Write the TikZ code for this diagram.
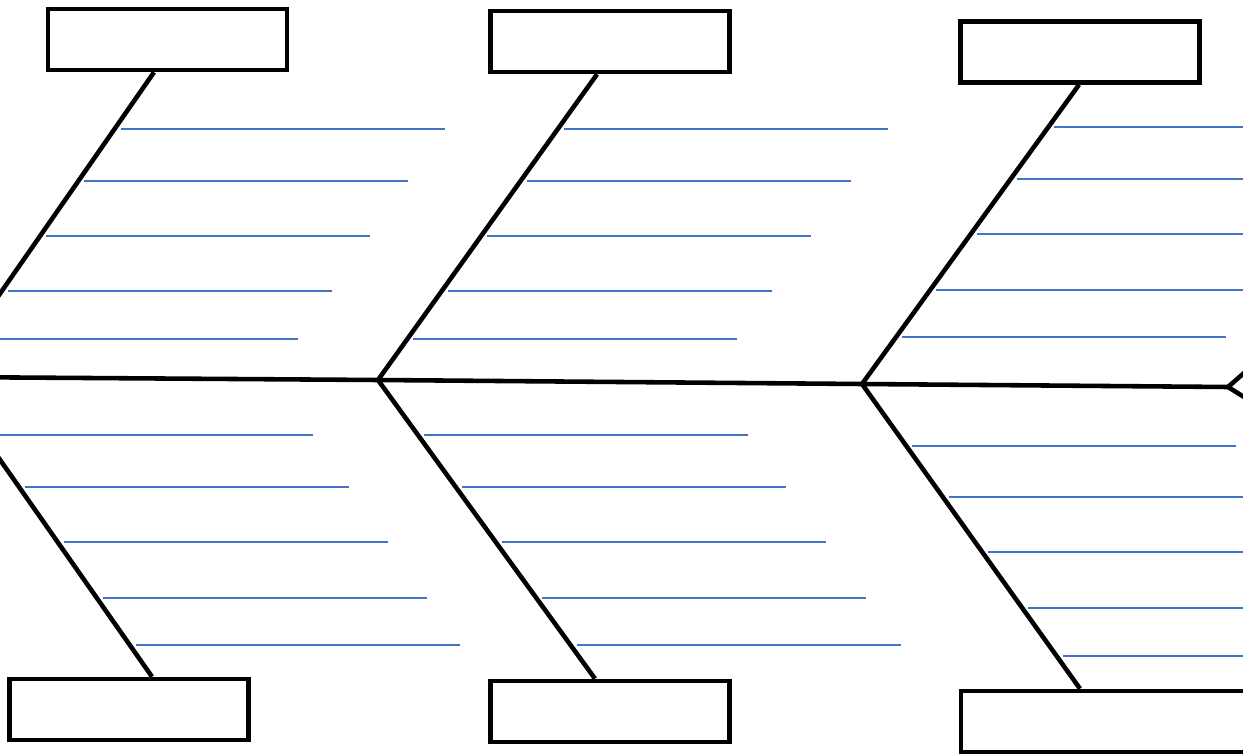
\documentclass[tikz,border=0pt]{standalone}
\usepackage{tikz}
\usetikzlibrary{calc}
\definecolor{RuleBlue}{HTML}{4472C4}

\begin{document}
\begin{tikzpicture}[x=0.02cm,y=-0.02cm,
    causebox/.style={draw,line width=2.6pt,fill=white,minimum width=4.78cm,
      minimum height=1.22cm,inner sep=0pt},
    bone/.style={line width=2.6pt},
    rule/.style={draw=RuleBlue,line width=0.8pt}]
  \useasboundingbox (0,0) rectangle (1243,756);
  \clip (0,0) rectangle (1243,756);
  % joints on the spine
  \coordinate (j1) at (-58,377);
  \coordinate (j2) at (378,380);
  \coordinate (j3) at (862,384);
  \coordinate (head) at (1228,387);
  % category boxes
  \node[causebox] (ul) at (167.5,39.5) {};
  \node[causebox] (mu) at (610,41.5) {};
  \node[causebox] (ru) at (1080,52) {};
  \node[causebox] (ll) at (129,709.5) {};
  \node[causebox] (ml) at (610,711.5) {};
  \node[causebox,minimum width=6cm] (rl) at (1111,721.5) {};
  % where the bones meet the boxes
  \coordinate (t1) at ($(ul.south)+(-13.5,0)$);
  \coordinate (t2) at ($(mu.south)+(-13,0)$);
  \coordinate (t3) at ($(ru.south)+(-1,0)$);
  \coordinate (b1) at ($(ll.north)+(23,0)$);
  \coordinate (b2) at ($(ml.north)+(-15,0)$);
  \coordinate (b3) at ($(rl.north)+(-31,0)$);
  % writing lines
  \foreach \j/\t/\ys in {j1/t1/{129,181,236,291,339},j2/t2/{129,181,236,291,339},
      j3/t3/{127,179,234,290,337},j1/b1/{435,487,542,598,645},
      j2/b2/{435,487,542,598,645},j3/b3/{446,497,552,608,656}}
    \foreach \y in \ys
      \draw[rule] (intersection cs:first line={(\j)--(\t)},
        second line={(0,\y)--(1,\y)}) ++(6,0) -- ++(324,0);
  % spine and bones
  \draw[bone] (j1) -- (j2) -- (j3) -- (head);
  \draw[bone] (j1) -- (t1) (j2) -- (t2) (j3) -- (t3);
  \draw[bone] (j1) -- (b1) (j2) -- (b2) (j3) -- (b3);
  \draw[bone] ($(head)+(40,-35)$) -- (head) -- ($(head)+(40,25)$);
\end{tikzpicture}
\end{document}
